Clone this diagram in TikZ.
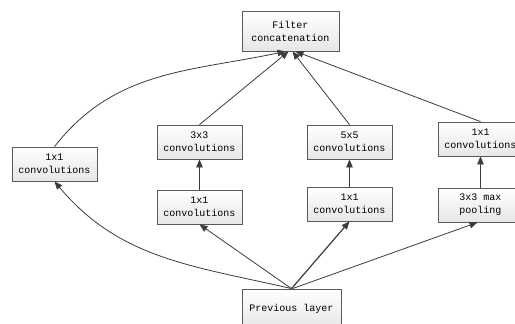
\documentclass[tikz,border=0pt]{standalone}
\usepackage{fontspec}
\setmonofont{Liberation Mono}
\usepackage{xcolor}
\definecolor{Col1}{RGB}{60,60,60}
\definecolor{Col2}{RGB}{90,90,90}
\definecolor{Col3}{RGB}{200,200,200}
\usepackage{tikz}
\usetikzlibrary{shadows}
\usetikzlibrary{arrows.meta}
\tikzstyle{Layer}=[rectangle,draw=Col2,line width=0.8pt,top color=white,
bottom color=Col3!45,minimum width=85pt,minimum height=34pt,inner sep=1pt,
align=center,font=\ttfamily\fontsize{10}{13}\selectfont,
drop shadow={shadow xshift=1.2pt,shadow yshift=-1.2pt,fill=Col3}]
\tikzstyle{Edge}=[draw=Col1,line width=0.8pt,
-{Triangle[length=8pt,width=6.5pt]}]

\begin{document}
\begin{tikzpicture}[x=1pt,y=1pt]
            \useasboundingbox[fill=white](0,0)rectangle(515,-324);
            \node[Layer,minimum width=97pt,minimum height=40pt](concat)
                at(290.5,-31){Filter\\concatenation};
            \node[Layer](b1)at(54.5,-164){1x1\\convolutions};
            \node[Layer](b2a)at(199.5,-207){1x1\\convolutions};
            \node[Layer](b2b)at(199.5,-142){3x3\\convolutions};
            \node[Layer](b3a)at(349.5,-204){1x1\\convolutions};
            \node[Layer](b3b)at(349.5,-142){5x5\\convolutions};
            \node[Layer](b4a)at(480.5,-205){3x3 max\\pooling};
            \node[Layer](b4b)at(480.5,-139){1x1\\convolutions};
            \node[Layer,minimum width=99pt,minimum height=40pt](prev)
                at(291.5,-309){Previous layer};
            %
            \draw[Edge](b1.north)to[out=52,in=-168]
                ([xshift=-5pt]concat.south);
            \draw[Edge](b2b.north)--([xshift=-2pt]concat.south);
            \draw[Edge](b3b.north)--([xshift=2pt]concat.south);
            \draw[Edge](b4b.north)--([xshift=5pt]concat.south);
            \draw[Edge](b2a)--(b2b);
            \draw[Edge](b3a)--(b3b);
            \draw[Edge](b4a)--(b4b);
            \draw[Edge](prev.north)to[out=167,in=-50](b1.south);
            \draw[Edge](prev.north)--(b2a.south);
            \draw[Edge,line width=1.2pt](prev.north)--(b3a.south);
            \draw[Edge]([xshift=1pt]prev.north)--([xshift=-3pt]b4a.south);
\end{tikzpicture}
\end{document}
